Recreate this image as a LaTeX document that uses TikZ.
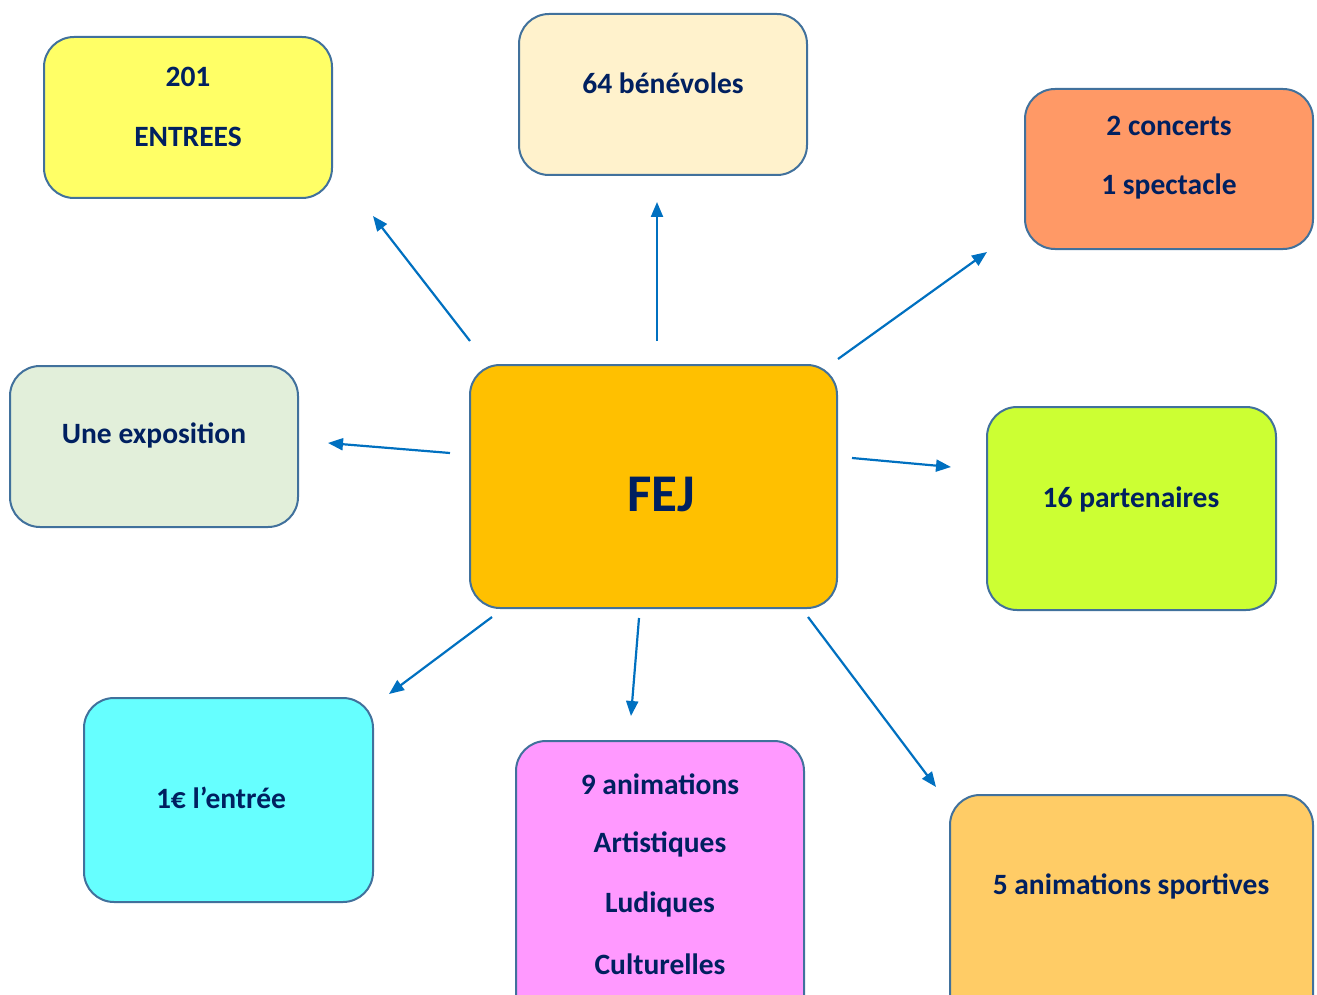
\documentclass[tikz,border=0pt]{standalone}
\usepackage{fontspec}
\setmainfont{Carlito}
\usetikzlibrary{arrows.meta}
\definecolor{txt}{HTML}{002060}
\definecolor{bord}{HTML}{41719C}
\definecolor{arr}{HTML}{0070C0}
\definecolor{cYellow}{HTML}{FFFF66}
\definecolor{cCream}{HTML}{FFF2CC}
\definecolor{cSalmon}{HTML}{FF9966}
\definecolor{cGreen}{HTML}{E2EFDA}
\definecolor{cGold}{HTML}{FFC000}
\definecolor{cLime}{HTML}{CCFF33}
\definecolor{cCyan}{HTML}{66FFFF}
\definecolor{cPink}{HTML}{FF99FF}
\definecolor{cOrange}{HTML}{FFCC66}
\tikzset{
  box/.style={draw=bord, line width=2pt, rounded corners=30pt, inner sep=0pt},
  lbl/.style={text=txt, font=\fontsize{29.5}{34}\selectfont\bfseries, inner sep=0pt},
  arrowline/.style={draw=arr, line width=2.2pt, -{Triangle[length=15pt,width=12pt]}}
}
\begin{document}
\begin{tikzpicture}[x=1pt,y=-1pt]
\useasboundingbox (0,0) rectangle (1317,995);
\begin{scope}
\clip (0,0) rectangle (1317,995);
% boxes
\draw[box, fill=cYellow] (44,37) rectangle (332,198);
\draw[box, fill=cCream] (519,14) rectangle (807,175);
\draw[box, fill=cSalmon] (1025,89) rectangle (1313,249);
\draw[box, fill=cGreen] (10,366) rectangle (298,527);
\draw[box, fill=cGold] (470,365) rectangle (837,608);
\draw[box, fill=cLime] (987,407) rectangle (1276,610);
\draw[box, fill=cCyan] (84,698) rectangle (373,902);
\draw[box, fill=cPink] (516,741) rectangle (804,1030);
\draw[box, fill=cOrange] (950,795) rectangle (1313,1030);
\end{scope}
% labels
\node[lbl] (entrees1) at (188,77) {201};
\node[lbl] (entrees2) at (188,137) {ENTREES};
\node[lbl] (benev) at (663,83) {64 bénévoles};
\node[lbl] (conc1) at (1169,126) {2 concerts};
\node[lbl] (conc2) at (1169,186) {1 spectacle};
\node[lbl] (expo) at (154,435) {Une exposition};
\node[text=txt, font=\fontsize{53}{60}\selectfont\bfseries, inner sep=0pt] (fej) at (661,494) {FEJ};
\node[lbl] (part) at (1131,499) {16 partenaires};
\node[lbl] (entree) at (221,798) {1€ l’entrée};
\node[lbl] (anim1) at (660,784) {9 animations};
\node[lbl] (anim2) at (660,844) {Artistiques};
\node[lbl] (anim3) at (660,904) {Ludiques};
\node[lbl] (anim4) at (660,964) {Culturelles};
\node[lbl] (sport) at (1131,886) {5 animations sportives};
% arrow endpoints
\coordinate (s1) at (470,341); \coordinate (e1) at (373,216);
\coordinate (s2) at (657,341); \coordinate (e2) at (657,202);
\coordinate (s3) at (838,359); \coordinate (e3) at (987,252);
\coordinate (s4) at (450,453); \coordinate (e4) at (328,443);
\coordinate (s5) at (852,458); \coordinate (e5) at (951,467);
\coordinate (s6) at (492,617); \coordinate (e6) at (389,694);
\coordinate (s7) at (639,618); \coordinate (e7) at (631,716);
\coordinate (s8) at (808,617); \coordinate (e8) at (936,787);
\foreach \i in {1,...,8} \draw[arrowline] (s\i) -- (e\i);
\end{tikzpicture}
\end{document}
